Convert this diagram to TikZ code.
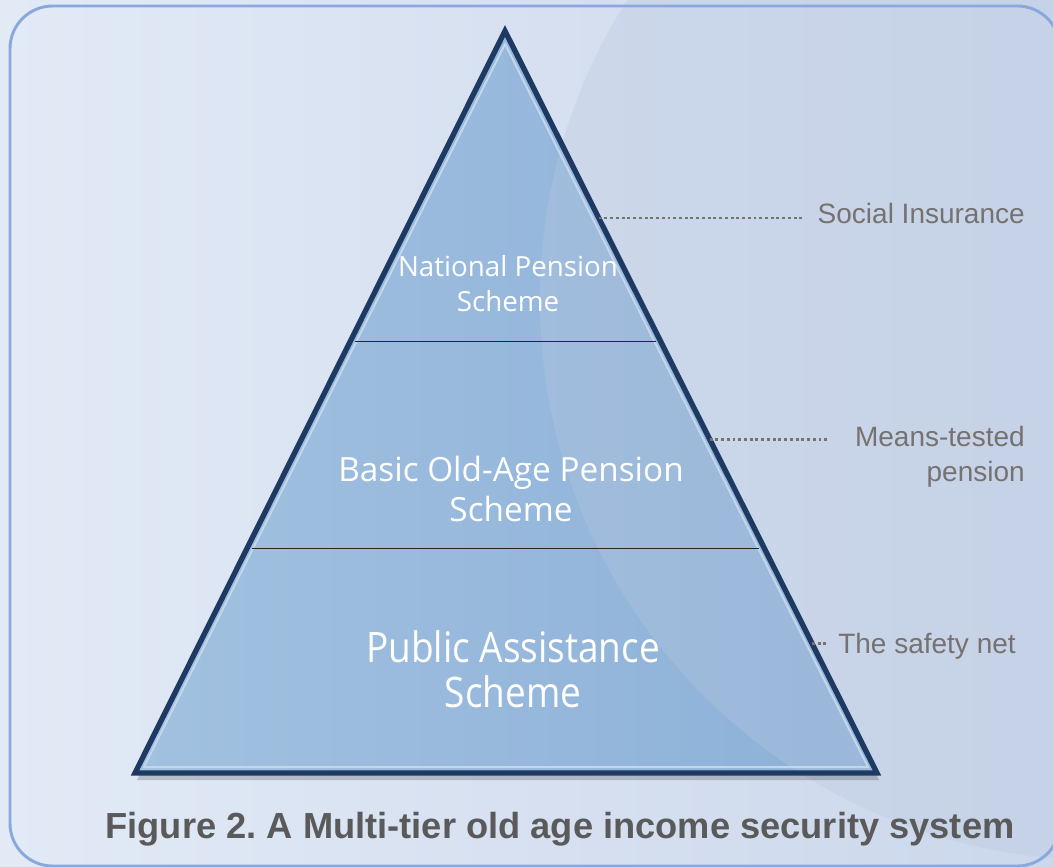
\documentclass[tikz,border=0pt]{standalone}
\usepackage{fontspec}
\setmainfont{Liberation Sans}
\newfontfamily\tierfont{Open Sans}
\newfontfamily\tierfontnarrow[FakeStretch=0.88]{Open Sans}
\usetikzlibrary{calc}
\frenchspacing

\definecolor{bgLeft}{HTML}{E2EAF6}
\definecolor{bgRight}{HTML}{CBD7EB}
\definecolor{bgCircle}{HTML}{BCC9E0}
\definecolor{frameBlue}{HTML}{8AA8DE}
\definecolor{pyrLeft}{HTML}{A2C1E0}
\definecolor{pyrRight}{HTML}{8CB0D8}
\definecolor{pyrEdge}{HTML}{1E3A62}
\definecolor{pyrLight}{HTML}{C2D6EC}
\definecolor{sideGray}{HTML}{767270}
\definecolor{capGray}{HTML}{5A5A5A}

\begin{document}
\begin{tikzpicture}[x=0.75pt, y=-0.75pt,
    tier/.style={text=white, align=center, inner sep=0pt},
    side/.style={text=sideGray, inner sep=0pt, font=\fontsize{21}{26.25}\selectfont},
    leader/.style={draw=sideGray, line width=2.2pt, dash pattern=on 2.2pt off 2.1pt},
    divider/.style={draw=black!85, line width=0.8pt, shorten <=4pt, shorten >=4pt}
]
    \useasboundingbox (0,0) rectangle (1053,867);

    % background
    \fill[left color=bgLeft, right color=bgRight] (0,0) rectangle (1053,867);
    \begin{scope}
        \clip (0,0) rectangle (1053,867);
        \fill[bgCircle, opacity=0.35] (1100,300) circle (420pt);
    \end{scope}
    \draw[frameBlue, line width=2.2pt, rounded corners=32pt] (10,6) rectangle (1060,866);

    % pyramid
    \coordinate (apex) at (505,31);
    \coordinate (bl) at (135,773);
    \coordinate (br) at (877,773);

    \fill[black, opacity=0.18] ($(apex)+(2,7)$) -- ($(bl)+(2,7)$) -- ($(br)+(2,7)$) -- cycle;
    \fill[left color=pyrLeft, right color=pyrRight] (apex) -- (bl) -- (br) -- cycle;
    \begin{scope}
        \clip (apex) -- (bl) -- (br) -- cycle;
        \fill[bgCircle, opacity=0.3] (1100,300) circle (420pt);
    \end{scope}
    \draw[pyrLight, line width=1.5pt, line join=miter] (505,44) -- (144,767) -- (868,767) -- cycle;
    \draw[pyrEdge, line width=4pt, line join=miter] (apex) -- (bl) -- (br) -- cycle;

    \draw[divider] ($(apex)!0.419!(bl)$) -- ($(apex)!0.419!(br)$);
    \draw[divider] ($(apex)!0.698!(bl)$) -- ($(apex)!0.698!(br)$);

    % tiers
    \node[tier, font=\tierfont\fontsize{20.8}{26.25}\selectfont] (nps) at (508,284) {National Pension\\Scheme};
    \node[tier, font=\tierfont\fontsize{25}{30}\selectfont] (boaps) at (511,489) {Basic Old-Age Pension\\Scheme};
    \node[tier, font=\tierfontnarrow\fontsize{31.5}{33.75}\selectfont] (pas) at (513,669) {Public Assistance\\Scheme};

    % side labels
    \node[side, anchor=base east] (si) at (1025,223) {Social Insurance};
    \node[side, align=right, anchor=east] (mt) at (1025,457) {Means-tested\\pension};
    \node[side, anchor=base west] (sn) at (838,653) {The safety net};

    \coordinate (siPt) at ($(apex)!0.252!(br)$);
    \coordinate (mtPt) at ($(apex)!0.55!(br)$);
    \coordinate (snPt) at ($(apex)!0.825!(br)$);
    \draw[leader, shorten >=10pt] (siPt) -- (siPt -| si.west);
    \draw[leader, shorten >=20pt] (mtPt) -- (mtPt -| mt.west);
    \draw[leader, shorten >=7pt] (snPt) -- (snPt -| sn.west);

    \node[anchor=base, text=capGray, inner sep=0pt, font=\bfseries\fontsize{27.2}{32}\selectfont] (caption) at (560,838) {Figure 2. A Multi-tier old age income security system};
\end{tikzpicture}
\end{document}
